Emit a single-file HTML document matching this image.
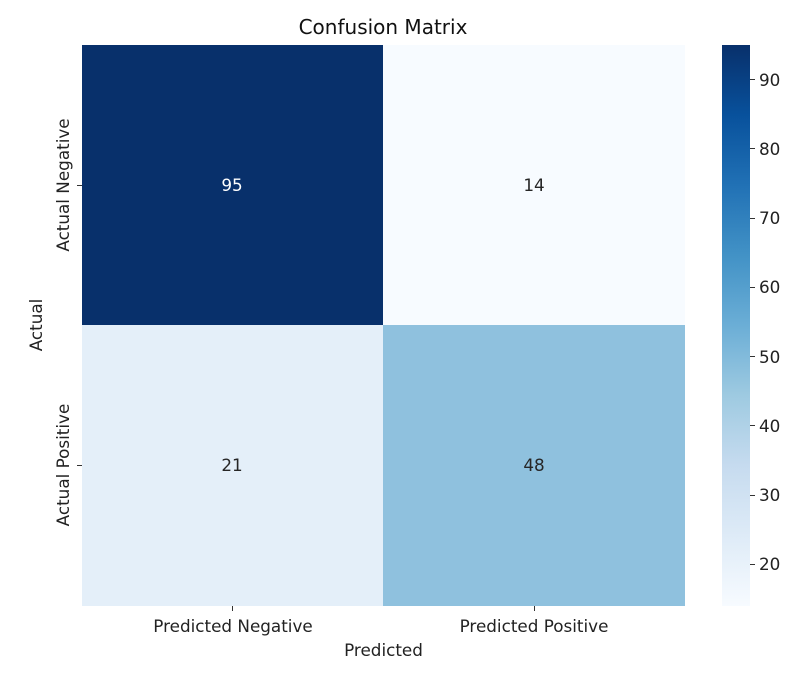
<!DOCTYPE html>
<html><head><style>
body{margin:0;background:#fff;width:800px;height:673px;overflow:hidden;font-family:"DejaVu Sans","Liberation Sans",sans-serif;color:#222}
.a{position:absolute}
</style></head><body>
<div class="a" style="left:0;top:0;width:800px;height:673px">
<div class="a" style="left:0;width:766px;top:15px;text-align:center;font-size:20px;color:#111">Confusion Matrix</div>
<div class="a" style="left:82px;top:45px;width:301px;height:280px;background:#08306b"></div>
<div class="a" style="left:383px;top:45px;width:302px;height:280px;background:#f7fbff"></div>
<div class="a" style="left:82px;top:325px;width:301px;height:281px;background:#e4eff9"></div>
<div class="a" style="left:383px;top:325px;width:302px;height:281px;background:#8fc1de"></div>
<div class="a" style="left:202px;top:175px;width:60px;text-align:center;font-size:16.8px;color:#fff">95</div>
<div class="a" style="left:504px;top:175px;width:60px;text-align:center;font-size:16.8px;color:#262626">14</div>
<div class="a" style="left:202px;top:455px;width:60px;text-align:center;font-size:16.8px;color:#262626">21</div>
<div class="a" style="left:504px;top:455px;width:60px;text-align:center;font-size:16.8px;color:#262626">48</div>
<div class="a" style="left:232px;top:606px;width:1px;height:5px;background:#333"></div>
<div class="a" style="left:534px;top:606px;width:1px;height:5px;background:#333"></div>
<div class="a" style="left:62px;top:616px;width:342px;text-align:center;font-size:16.8px">Predicted Negative</div>
<div class="a" style="left:363px;top:616px;width:342px;text-align:center;font-size:16.8px">Predicted Positive</div>
<div class="a" style="left:82px;top:640px;width:603px;text-align:center;font-size:16.8px">Predicted</div>
<div class="a" style="left:77px;top:185px;width:5px;height:1px;background:#333"></div>
<div class="a" style="left:77px;top:465px;width:5px;height:1px;background:#333"></div>
<div class="a" style="left:-37px;top:175px;width:200px;text-align:center;font-size:16.8px;transform:rotate(-90deg)">Actual Negative</div>
<div class="a" style="left:-37px;top:455px;width:200px;text-align:center;font-size:16.8px;transform:rotate(-90deg)">Actual Positive</div>
<div class="a" style="left:-64px;top:315px;width:200px;text-align:center;font-size:16.8px;transform:rotate(-90deg)">Actual</div>
<div class="a" style="left:722px;top:45px;width:28px;height:561px;background:linear-gradient(to top,#f7fbff 0%,#deebf7 12.5%,#c6dbef 25%,#9ecae1 37.5%,#6baed6 50%,#4292c6 62.5%,#2171b5 75%,#08519c 87.5%,#08306b 100%)"></div>
<div id="cb"></div>
</div>
<script>
var h='';for(var v=20;v<=90;v+=10){var y=606-(v-14)/81*561;h+='<div class="a" style="left:750px;top:'+(y-0.5)+'px;width:5px;height:1px;background:#333"></div><div class="a" style="left:759px;top:'+(y-10)+'px;font-size:16.8px">'+v+'</div>';}
document.getElementById('cb').innerHTML=h;
</script>
</body></html>
